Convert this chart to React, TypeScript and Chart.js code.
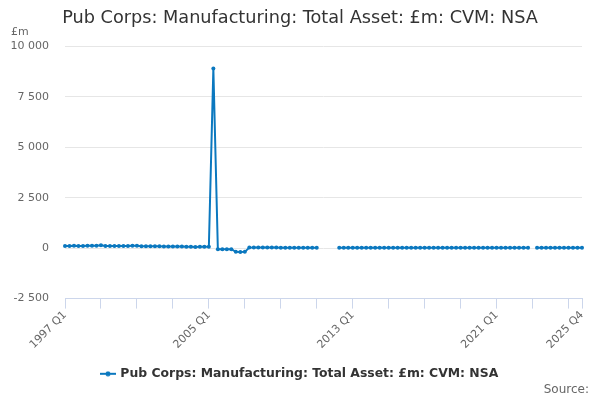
import React, { useEffect, useRef } from "react";
import { Chart, registerables } from "chart.js";

Chart.register(...registerables);

const FONT = "'DejaVu Sans', sans-serif";
const SERIES_COLOR = "#0b78bf";

const years: number[] = [];
for (let y = 1997; y <= 2025; y++) years.push(y);
const quarters = ["Q1", "Q2", "Q3", "Q4"];
const categories: string[] = [];
years.forEach((y) => quarters.forEach((q) => categories.push(`${y} ${q}`)));

const shownTickLabels = ["1997 Q1", "2005 Q1", "2013 Q1", "2021 Q1", "2025 Q4"];

const seriesName = "Pub Corps: Manufacturing: Total Asset: £m: CVM: NSA";

// 1997 Q1 .. 2025 Q4 (116 quarters)
const values: (number | null)[] = [
  // 1997
  110, 108, 112, 105,
  // 1998
  104, 112, 118, 122,
  // 1999
  140, 102, 110, 108,
  // 2000
  104, 106, 110, 115,
  // 2001
  118, 96, 92, 90,
  // 2002
  92, 88, 84, 82,
  // 2003
  80, 78, 76, 74,
  // 2004
  66, 62, 64, 66,
  // 2005
  68, 8900, -60, -58,
  // 2006
  -55, -50, -180, -190,
  // 2007
  -185, 25, 30, 28,
  // 2008
  30, 28, 26, 25,
  // 2009
  24, 22, 24, 22,
  // 2010
  20, 20, 22, 20,
  // 2011
  20, null, null, null,
  // 2012
  null, 18, 20, 20,
  // 2013
  20, 18, 20, 22,
  // 2014
  20, 20, 18, 20,
  // 2015
  20, 22, 20, 20,
  // 2016
  18, 20, 20, 22,
  // 2017
  20, 20, 20, 18,
  // 2018
  20, 20, 22, 20,
  // 2019
  20, 20, 18, 20,
  // 2020
  20, 20, 20, 20,
  // 2021
  20, 18, 20, 20,
  // 2022
  20, 20, 20, 20,
  // 2023
  null, 20, 20, 20,
  // 2024
  20, 20, 20, 20,
  // 2025
  20, 20, 20, 20,
];

const yMin = -2500;
const yMax = 10000;
const yStep = 2500;

function formatThousands(v: number): string {
  const neg = v < 0;
  const s = Math.abs(v).toFixed(0).replace(/\B(?=(\d{3})+(?!\d))/g, " ");
  return (neg ? "-" : "") + s;
}

function makeLegendSymbol(): HTMLCanvasElement {
  const c = document.createElement("canvas");
  c.width = 16;
  c.height = 6;
  const g = c.getContext("2d")!;
  g.strokeStyle = SERIES_COLOR;
  g.lineWidth = 2;
  g.beginPath();
  g.moveTo(0, 3);
  g.lineTo(16, 3);
  g.stroke();
  g.fillStyle = SERIES_COLOR;
  g.beginPath();
  g.arc(8, 3, 2.5, 0, Math.PI * 2);
  g.fill();
  return c;
}

const textPlugin = {
  id: "extraText",
  afterDraw(chart: any) {
    const ctx = chart.ctx as CanvasRenderingContext2D;
    ctx.save();
    ctx.fillStyle = "#666666";
    ctx.font = `11px ${FONT}`;
    ctx.textAlign = "left";
    ctx.textBaseline = "middle";
    ctx.fillText("£m", 11, 32);
    ctx.font = `12px ${FONT}`;
    ctx.textAlign = "right";
    ctx.fillText("Source:", 589, 390);
    ctx.restore();
  },
};

export default function App() {
  const canvasRef = useRef<HTMLCanvasElement | null>(null);

  useEffect(() => {
    document.body.style.margin = "0";
    const canvas = canvasRef.current;
    if (!canvas) return;
    const chart = new Chart(canvas, {
      type: "line",
      data: {
        labels: categories,
        datasets: [
          {
            label: seriesName,
            data: values,
            borderColor: SERIES_COLOR,
            backgroundColor: SERIES_COLOR,
            borderWidth: 2,
            pointRadius: 2,
            pointBorderWidth: 0,
            pointBackgroundColor: SERIES_COLOR,
            spanGaps: false,
            tension: 0,
            yAxisID: "y",
          },
        ],
      },
      options: {
        animation: false,
        responsive: false,
        maintainAspectRatio: false,
        layout: { padding: { left: 0, right: 0, top: 0, bottom: 10 } },
        plugins: {
          title: {
            display: true,
            text: seriesName,
            color: "#333333",
            font: { family: FONT, size: 17.7, weight: "normal" },
            padding: { top: 8, bottom: 17 },
          },
          legend: {
            display: true,
            position: "bottom",
            labels: {
              color: "#333333",
              font: { family: FONT, size: 12.4, weight: "bold" },
              usePointStyle: true,
              pointStyle: makeLegendSymbol() as any,
              padding: 8,
            },
          },
          tooltip: { enabled: false },
        },
        scales: {
          x: {
            type: "category",
            offset: false,
            grid: {
              drawOnChartArea: false,
              drawTicks: true,
              tickLength: 10,
              tickColor: (c: any) =>
                c.index % 8 === 0 || c.index === categories.length - 1 ? "#ccd6eb" : "rgba(0,0,0,0)",
            },
            border: { display: true, color: "#ccd6eb", width: 1 },
            ticks: {
              autoSkip: false,
              maxRotation: 45,
              minRotation: 45,
              color: "#666666",
              font: { family: FONT, size: 11 },
              padding: 0,
              callback: (_v: any, i: number) =>
                shownTickLabels.includes(categories[i]) ? categories[i] : "",
            },
            afterFit: (s: any) => {
              s.height = 61;
            },
          },
          y: {
            position: "left",
            min: yMin,
            max: yMax,
            grid: {
              color: (c: any) => (c.tick && c.tick.value === yMin ? "rgba(0,0,0,0)" : "#e6e6e6"),
              drawTicks: false,
            },
            border: { display: false },
            ticks: {
              stepSize: yStep,
              color: "#666666",
              font: { family: FONT, size: 11 },
              padding: 16,
              callback: (v: any) => formatThousands(Number(v)),
            },
            afterFit: (s: any) => {
              s.width = 65;
            },
          },
          ySpacer: {
            type: "linear",
            position: "right",
            display: true,
            min: yMin,
            max: yMax,
            grid: { display: false, drawTicks: false },
            border: { display: false },
            ticks: { display: false },
            afterFit: (s: any) => {
              s.width = 18;
            },
          },
        },
      },
      plugins: [textPlugin],
    });
    return () => chart.destroy();
  }, []);

  return (
    <div style={{ width: 600, height: 400, position: "relative", background: "#ffffff" }}>
      <canvas ref={canvasRef} width={600} height={400} style={{ width: 600, height: 400 }} />
    </div>
  );
}
